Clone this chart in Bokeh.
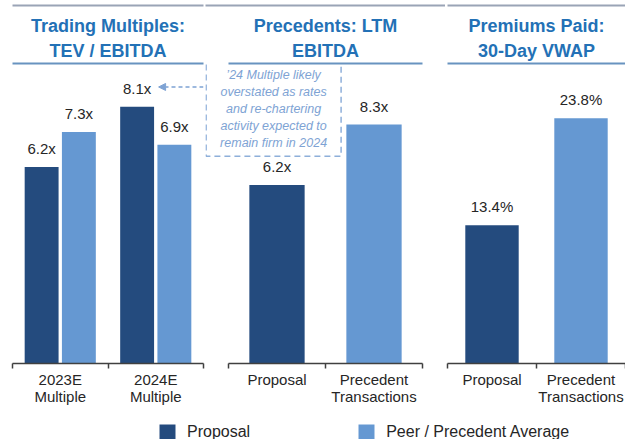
from bokeh.plotting import figure
from bokeh.models import (ColumnDataSource, FactorRange, Range1d, LinearAxis, CategoricalAxis,
                          FixedTicker, Label, Arrow, NormalHead, Legend, LegendItem, Title)
from bokeh.layouts import column, row
from bokeh.transform import dodge
from bokeh.core.properties import value
from bokeh.embed import file_html
from bokeh.resources import INLINE

# ---------------- data ----------------
trading_title = ["Trading Multiples:", "TEV / EBITDA"]
trading_cats = ["2023E\nMultiple", "2024E\nMultiple"]
trading_proposal = [6.2, 8.1]
trading_peer = [7.3, 6.9]

precedent_title = ["Precedents: LTM", "EBITDA"]
precedent_cats = ["Proposal", "Precedent\nTransactions"]
precedent_values = [6.2, 8.3]

premium_title = ["Premiums Paid:", "30-Day VWAP"]
premium_cats = ["Proposal", "Precedent\nTransactions"]
premium_values = [13.4, 23.8]

legend_labels = ["Proposal", "Peer / Precedent Average"]
note_text = ("\u201924 Multiple likely\noverstated as rates\nand re-chartering\n"
             "activity expected to\nremain firm in 2024")

# ---------------- style ----------------
FONT = "Liberation Sans"
DARK = "#244B7E"
LIGHT = "#6598D2"
TITLE = "#2371B6"
SEP = "#6893C0"
TOP = "#9AA4B6"
NOTE = "#7EA3D4"
NOTE_BORDER = "#8EAFDA"
TEXT = "#262626"
AXIS = "#404040"
FRAME_H = 300


def plain_axis(ticks, n, **kw):
    base = dict(ticker=FixedTicker(ticks=ticks), bounds=(0, n), minor_tick_line_color=None,
                major_label_overrides={t: "" for t in ticks}, major_label_text_font_size="0px",
                major_label_standoff=0, major_tick_in=0)
    base.update(kw)
    return LinearAxis(**base)


def make_panel(cats, y_end, title_lines, frame_w, left, right, pad=0.0):
    n = len(cats)
    p = figure(x_range=FactorRange(factors=cats, range_padding=pad, range_padding_units="absolute"),
               y_range=Range1d(0, y_end),
               frame_width=frame_w, frame_height=FRAME_H,
               min_border_left=left, min_border_right=right,
               min_border_top=63, min_border_bottom=48,
               output_backend="svg", toolbar_location=None,
               x_axis_location=None, y_axis_location=None,
               outline_line_color=None, title_location=None)
    p.xgrid.visible = False
    p.ygrid.visible = False

    edges = list(range(n + 1))

    # stack above the frame (closest first): separator, title line 2, title line 1, top rule
    p.add_layout(plain_axis(edges, n, axis_line_color=SEP, axis_line_width=2,
                            major_tick_line_color=None, major_tick_out=0), "above")
    p.add_layout(Title(text=title_lines[1], align="center", text_font=FONT, text_font_size="18px",
                       text_font_style="bold", text_color=TITLE, standoff=6), "above")
    p.add_layout(Title(text=title_lines[0], align="center", text_font=FONT, text_font_size="18px",
                       text_font_style="bold", text_color=TITLE, standoff=0,
                       padding=dict(left=0, right=0, top=8, bottom=0)), "above")
    p.add_layout(plain_axis(edges, n, bounds="auto", axis_line_color=TOP, axis_line_width=2,
                            major_tick_line_color=None, major_tick_out=0), "above")

    # baseline with tick marks at the category boundaries (synthetic coordinates 0..n)
    p.add_layout(plain_axis(edges, n, axis_line_color=AXIS, axis_line_width=1.5,
                            major_tick_line_color=AXIS, major_tick_line_width=1.5,
                            major_tick_out=5), "below")

    cat_axis = CategoricalAxis(axis_line_color=None, major_tick_line_color=None,
                               minor_tick_line_color=None,
                               major_label_text_font=FONT,
                               major_label_text_font_size="15px",
                               major_label_text_line_height=1.05,
                               major_label_text_color=TEXT,
                               major_label_standoff=-4)
    p.add_layout(cat_axis, "below")
    return p


def value_labels(p, x, y, text, source):
    p.text(x=x, y=y, text=text, source=source, text_align="center", text_baseline="bottom",
           y_offset=-10, text_font=value(FONT), text_font_size="15px", text_color=TEXT)


# ---------------- panel 1 ----------------
p1 = make_panel(trading_cats, 9.46, trading_title, 191, 12, 2)
src1 = ColumnDataSource(dict(cat=trading_cats, proposal=trading_proposal, peer=trading_peer,
                             plab=[f"{v:.1f}x" for v in trading_proposal],
                             qlab=[f"{v:.1f}x" for v in trading_peer]))
x_prop = dodge("cat", -0.195, range=p1.x_range)
x_peer = dodge("cat", 0.195, range=p1.x_range)
p1.vbar(x=x_prop, top="proposal", width=0.355, source=src1, fill_color=DARK, line_color=None)
p1.vbar(x=x_peer, top="peer", width=0.355, source=src1, fill_color=LIGHT, line_color=None)
value_labels(p1, x_prop, "proposal", "plab", src1)
value_labels(p1, x_peer, "peer", "qlab", src1)
p1.add_layout(Arrow(end=NormalHead(size=7, fill_color=NOTE, line_color=NOTE),
                    x_start=2.0, y_start=8.72, x_end=1.53, y_end=8.72,
                    line_color=NOTE, line_width=1.5, line_dash="4 3"))

# ---------------- panel 2 ----------------
p2 = make_panel(precedent_cats, 10.42, precedent_title, 240, 0, 0, pad=0.237)
src2 = ColumnDataSource(dict(cat=precedent_cats, val=precedent_values, color=[DARK, LIGHT],
                             lab=[f"{v:.1f}x" for v in precedent_values]))
p2.vbar(x="cat", top="val", width=0.57, source=src2, fill_color="color", line_color=None)
value_labels(p2, "cat", "val", "lab", src2)
p2.add_layout(Label(x=0.465, y=8.84, text=note_text, text_align="center", text_baseline="middle",
                    text_font=FONT, text_font_style="italic", text_font_size="12.5px",
                    text_color=NOTE, text_line_height=1.22,
                    border_line_color=NOTE_BORDER, border_line_dash="6 4", border_line_width=1.5,
                    background_fill_color=None,
                    padding=dict(left=14, right=14, top=6, bottom=6)))

# ---------------- panel 3 ----------------
p3 = make_panel(premium_cats, 29.1, premium_title, 178, 2, 0)
src3 = ColumnDataSource(dict(cat=premium_cats, val=premium_values, color=[DARK, LIGHT],
                             lab=[f"{v:.1f}%" for v in premium_values]))
p3.vbar(x="cat", top="val", width=0.6, source=src3, fill_color="color", line_color=None)
value_labels(p3, "cat", "val", "lab", src3)

# ---------------- legend ----------------
lg = figure(width=625, height=28, min_border=0, x_range=Range1d(0, 1), y_range=Range1d(0, 1),
            output_backend="svg", toolbar_location=None, x_axis_location=None,
            y_axis_location=None, outline_line_color=None, title_location=None)
lg.xgrid.visible = False
lg.ygrid.visible = False
# legend-only swatches: one bar each, placed outside the visible range
r_dark = lg.vbar(x=[5], top=[1], width=0.1, fill_color=DARK, line_color=None)
r_light = lg.vbar(x=[5], top=[1], width=0.1, fill_color=LIGHT, line_color=None)
legend = Legend(items=[LegendItem(label=legend_labels[0], renderers=[r_dark]),
                       LegendItem(label=legend_labels[1], renderers=[r_light])],
                orientation="horizontal", location=(157, -3),
                glyph_width=20, glyph_height=20, label_standoff=10, spacing=106,
                padding=0, margin=0, border_line_color=None, background_fill_alpha=0,
                label_text_font=FONT, label_text_font_size="16px", label_text_color=TEXT)
lg.add_layout(legend)

layout = column(row(p1, p2, p3), lg)

with open("out.html", "w") as f:
    f.write(file_html(layout, INLINE))
